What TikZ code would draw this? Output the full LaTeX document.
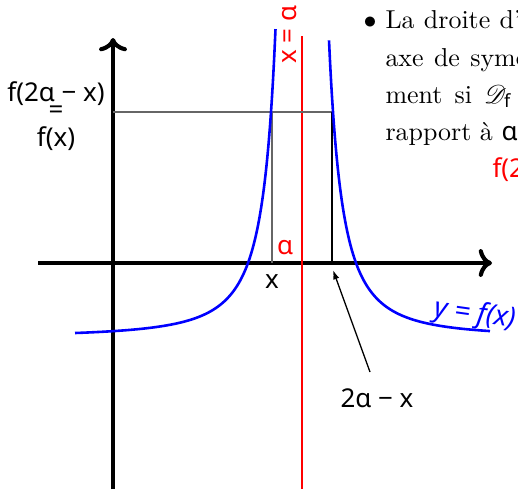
\documentclass[tikz,border=0pt]{standalone}
\usepackage{fontspec}
\usepackage{mathrsfs}
\usetikzlibrary{arrows.meta}
\newfontfamily\labfont{Noto Sans}
\tikzset{
  axisline/.style={line width=1.6pt,->},
  curve/.style={blue,line width=1pt},
  guide/.style={black!60,line width=0.6pt},
  guideb/.style={black,line width=0.5pt},
  lab/.style={font=\labfont,inner sep=0pt},
  body/.style={anchor=base west,inner sep=0pt}
}
\begin{document}
\begin{tikzpicture}[x=0.386pt,y=-0.386pt]
\useasboundingbox (0,0) rectangle (518,489);
\clip (0,0) rectangle (518,489);
% axes
\coordinate (ybot) at (113,489);
\coordinate (ytop) at (113,38);
\coordinate (xl) at (38,263);
\coordinate (xr) at (492,263);
\draw[axisline] (xl) -- (xr);
\draw[axisline] (ybot) -- (ytop);
% asymptote
\coordinate (rt) at (302,36);
\coordinate (rb) at (302,489);
\draw[red,line width=0.8pt] (rt) -- (rb);
% guides
\coordinate (h0) at (113,112);
\coordinate (h1) at (272,112);
\coordinate (h2) at (332,112);
\coordinate (v1) at (272,263);
\coordinate (v2) at (332,263);
\draw[guide] (h0) -- (h2);
\draw[guide] (h1) -- (v1);
\draw[guideb] (h2) -- (v2);
% curve
\draw[curve] plot[domain=2.65:22.7,samples=150,smooth,variable=\t] ({302-10*\t},{263-(2164/(\t*\t)-74.2)});
\draw[curve] plot[domain=2.7:18.8,samples=150,smooth,variable=\t] ({302+10*\t},{263-(2164/(\t*\t)-74.2)});
% labels
\node[lab,red,rotate=90] (xa) at (290,35) {x = ɑ};
\node[lab] (xl1) at (272,282) {x};
\node[lab,red] (al) at (285,248) {ɑ};
\node[lab] (lhsa) at (56,94) {f(2ɑ − x)};
\node[lab] (lhse) at (56,112) {=};
\node[lab] (lhsb) at (56,139) {f(x)};
\node[lab] (tx) at (377,398) {2ɑ − x};
\node[lab,blue,rotate=-8,font=\labfont\itshape\fontsize{10.8pt}{13pt}\selectfont] (yf) at (475,315) {y = f(x)};
\coordinate (tail) at (370,372);
\coordinate (tip) at (333,270);
\draw[-{Latex[length=3.6pt,width=2.4pt]},line width=0.5pt] (tail) -- (tip);
% text
\node[anchor=base,inner sep=0pt] (bul) at (370,29) {$\bullet$};
\node[body] (t1) at (385,29) {La\hspace{3.6pt}droite\hspace{3.6pt}d'équation};
\node[body] (t2) at (385,66) {axe\hspace{4.0pt}de\hspace{4.0pt}symétrie};
\node[body] (t3) at (385,103) {ment\hspace{4.7pt}si\hspace{4.7pt}$\mathscr{D}_{\mbox{\labfont\scriptsize f}}$ est};
\node[body] (t4) at (385,140) {rapport à {\labfont ɑ} et};
\node[body,red,font=\labfont] (t5) at (492,177) {f(2ɑ − x)};
\end{tikzpicture}
\end{document}
